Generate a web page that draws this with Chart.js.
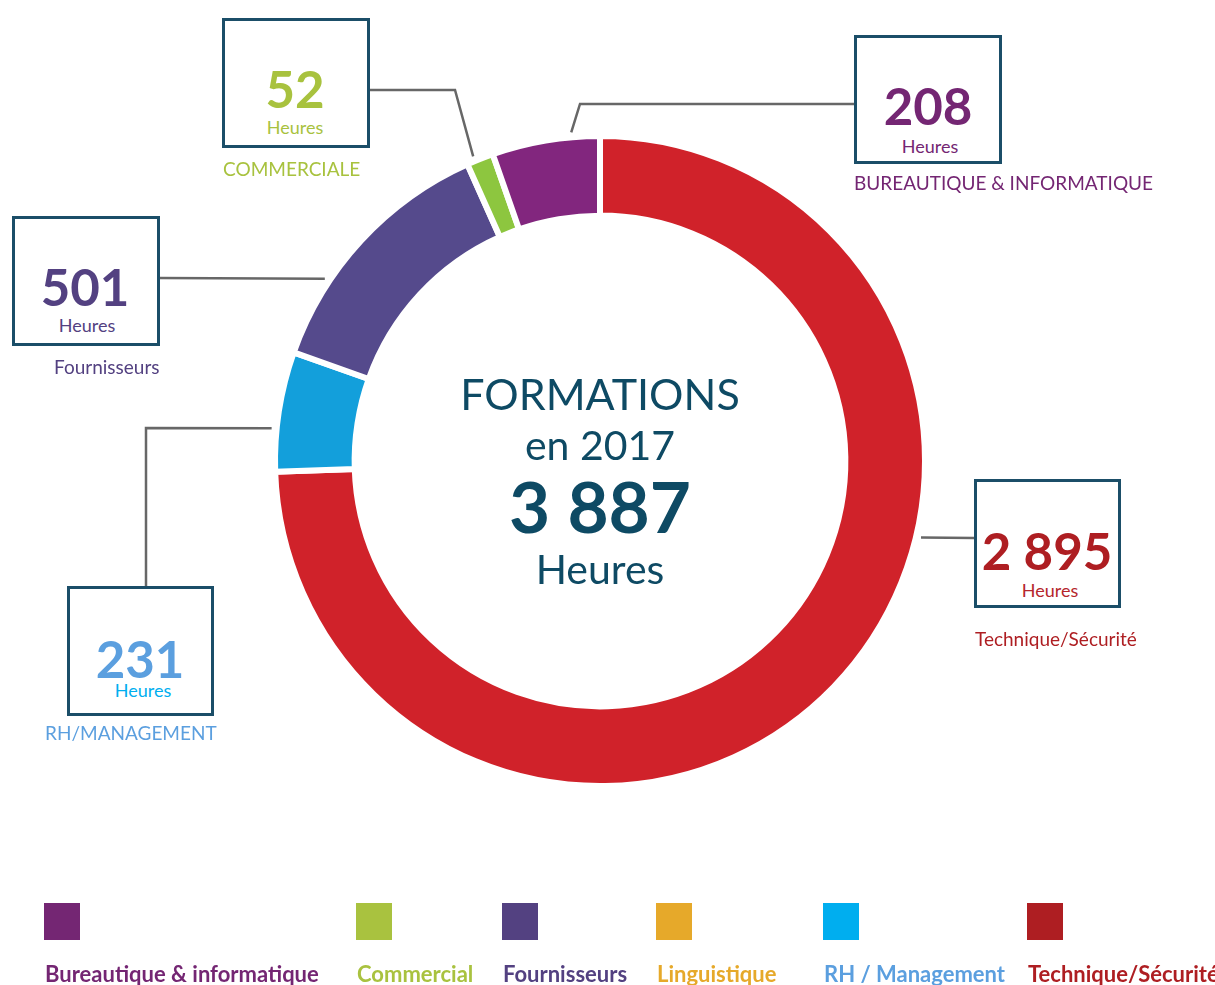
<!DOCTYPE html>
<html lang="fr">
<head>
<meta charset="utf-8">
<title>Formations en 2017</title>
<script src="https://cdn.jsdelivr.net/npm/chart.js@4"></script>
<style>
  html, body { margin: 0; padding: 0; background: #fff; }
  #page { position: relative; width: 1215px; height: 985px; overflow: hidden; font-family: Lato, "Open Sans", sans-serif; }
  #chart { position: absolute; left: 0; top: 0; }
  .txt { position: absolute; line-height: 1; white-space: nowrap; }
  .box { position: absolute; box-sizing: border-box; border: 3px solid #1b4e68; background: #fff; }
  .sq { position: absolute; }
</style>
</head>
<body>
<div id="page">
  <canvas id="chart" width="1215" height="985"></canvas>
</div>
<script>
// Données du graphique (sens horaire depuis le haut)
const categories = ["Technique/Sécurité", "RH/Management", "Fournisseurs", "Commercial", "Bureautique & informatique"];
const hours = [2895, 231, 501, 52, 208];
const arcColors = ["#d0222a", "#139fdb", "#554a8c", "#8dc63f", "#82267e"];
const calloutLabels = ["Technique/Sécurité", "RH/MANAGEMENT", "Fournisseurs", "COMMERCIALE", "BUREAUTIQUE & INFORMATIQUE"];
const numberColors = ["#ae1e22", "#5b9fdf", "#534181", "#a8c23e", "#742673"];
const unitColors = ["#b5262c", "#00aeef", "#534181", "#a8c23e", "#742673"];

// Légende du bas
const legendLabels = ["Bureautique & informatique", "Commercial", "Fournisseurs", "Linguistique", "RH / Management", "Technique/Sécurité"];
const legendColors = ["#742673", "#a9c23f", "#534181", "#e6a92a", "#00aeef", "#ae1e22"];
const legendTextColors = ["#742673", "#a9c23f", "#534181", "#e6a92a", "#5b9fdf", "#ae1e22"];

const centerTitle = ["FORMATIONS", "en 2017"];
const unit = "Heures";

// Mise en page des étiquettes (positions seulement)
const callouts = [
  { box: [974, 479, 147, 129], num: [1047, 570], unit: [1050, 597], label: [975, 646], path: [[974, 538]], angle: 13.4 },
  { box: [67, 586, 147, 130], num: [140, 678], unit: [143, 697], label: [45, 740], path: [[146, 586], [146, 428]], angle: -174.3 },
  { box: [12, 216, 148, 130], num: [85, 306], unit: [87, 332], label: [54, 374], path: [[159, 278]], angle: -146.5 },
  { box: [222, 18, 148, 130], num: [295, 108], unit: [295, 134], label: [223, 176], path: [[369, 90], [455, 90]], angle: -112.6 },
  { box: [854, 35, 148, 129], num: [928, 125], unit: [930, 153], label: [854, 190], path: [[854, 104], [580, 104]], angle: -95 }
];
const legendX = [44, 356, 502, 656, 823, 1027];

function fmt(n) {
  return String(n).replace(/\B(?=(\d{3})+(?!\d))/g, " ");
}

const page = document.getElementById("page");

// Ajoute un texte placé par sa ligne de base
function addText(text, x, baseline, size, weight, color, center) {
  const el = document.createElement("div");
  el.className = "txt";
  el.textContent = text;
  el.style.fontSize = size + "px";
  el.style.fontWeight = weight;
  el.style.color = color;
  el.style.top = (baseline - 0.887 * size) + "px";
  el.style.left = x + "px";
  if (center) el.style.transform = "translateX(-50%)";
  page.appendChild(el);
  return el;
}

// Traits de rappel entre les boîtes et l'anneau
const leaderPlugin = {
  id: "leaders",
  afterDatasetsDraw(chart) {
    const arc = chart.getDatasetMeta(0).data[0];
    if (!arc) return;
    const ctx = chart.ctx;
    const r = arc.outerRadius + 5;
    ctx.save();
    ctx.strokeStyle = "#676767";
    ctx.lineWidth = 2.5;
    callouts.forEach(function (c) {
      const a = c.angle * Math.PI / 180;
      ctx.beginPath();
      ctx.moveTo(c.path[0][0], c.path[0][1]);
      for (let k = 1; k < c.path.length; k++) ctx.lineTo(c.path[k][0], c.path[k][1]);
      ctx.lineTo(arc.x + r * Math.cos(a), arc.y + r * Math.sin(a));
      ctx.stroke();
    });
    ctx.restore();
  }
};

new Chart(document.getElementById("chart").getContext("2d"), {
  type: "doughnut",
  data: {
    labels: categories,
    datasets: [{
      data: hours,
      backgroundColor: arcColors,
      borderColor: "#ffffff",
      borderWidth: 6,
      hoverOffset: 0
    }]
  },
  options: {
    responsive: false,
    animation: false,
    cutout: "75.5%",
    layout: { padding: { left: 272, right: 287, top: 133, bottom: 196 } },
    plugins: {
      legend: { display: false },
      tooltip: { enabled: false }
    }
  },
  plugins: [leaderPlugin]
});

// Boîtes et textes des étiquettes
callouts.forEach(function (c, i) {
  const b = document.createElement("div");
  b.className = "box";
  b.style.left = c.box[0] + "px";
  b.style.top = c.box[1] + "px";
  b.style.width = c.box[2] + "px";
  b.style.height = c.box[3] + "px";
  page.appendChild(b);
  addText(fmt(hours[i]), c.num[0], c.num[1], 51, 700, numberColors[i], true);
  addText(unit, c.unit[0], c.unit[1], 18, 400, unitColors[i], true);
  addText(calloutLabels[i], c.label[0], c.label[1], 19, 400, numberColors[i], false);
});

// Texte central
const total = hours.reduce(function (s, v) { return s + v; }, 0);
addText(centerTitle[0], 600, 410, 43, 400, "#0e4a64", true);
addText(centerTitle[1], 600, 460, 41, 400, "#0e4a64", true);
addText(fmt(total), 600, 533, 71, 700, "#0e4a64", true);
addText(unit, 600, 584, 41, 400, "#0e4a64", true);

// Légende
legendLabels.forEach(function (label, i) {
  const sq = document.createElement("div");
  sq.className = "sq";
  sq.style.left = legendX[i] + "px";
  sq.style.top = "903px";
  sq.style.width = "36px";
  sq.style.height = "37px";
  sq.style.background = legendColors[i];
  page.appendChild(sq);
  addText(label, legendX[i] + 1, 983, 22, 700, legendTextColors[i], false);
});
</script>
</body>
</html>
